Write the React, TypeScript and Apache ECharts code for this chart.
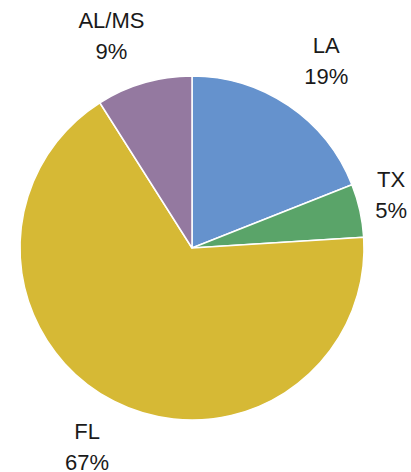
import React, { useEffect, useRef } from "react";
import * as echarts from "echarts";

const categories = ["LA", "TX", "FL", "AL/MS"];
const values = [19, 5, 67, 9];
const colors = ["#6592cd", "#5aa469", "#d6b935", "#9479a0"];

const CX = 192;
const CY = 248;
const R = 172;

export default function App() {
  const ref = useRef<HTMLDivElement>(null);
  useEffect(() => {
    document.body.style.margin = "0";
    const chart = echarts.init(ref.current!, null, { renderer: "svg" });
    const total = values.reduce((a, b) => a + b, 0);
    const labelDist = [230, 206, 225, 227];
    const angleShift = [1.5, -2.2, 0.8, -4.6];
    chart.setOption({
      animation: false,
      backgroundColor: "#ffffff",
      series: [
        {
          type: "pie",
          center: [CX, CY],
          radius: [0, R],
          startAngle: 90,
          clockwise: true,
          avoidLabelOverlap: false,
          data: categories.map((c, i) => ({
            name: c,
            value: values[i],
            itemStyle: { color: colors[i] },
          })),
          itemStyle: { borderColor: "#ffffff", borderWidth: 1.5 },
          label: {
            show: true,
            position: "outside",
            formatter: (p: any) => `${p.name}\n${p.value}%`,
            fontFamily: "Liberation Sans, Arial, sans-serif",
            fontSize: 22,
            lineHeight: 31,
            color: "#1a1a1a",
            align: "center",
          },
          labelLine: { show: false },
          labelLayout: (params: any) => {
            const i = params.dataIndex;
            let cum = 0;
            for (let k = 0; k < i; k++) cum += values[k];
            const mid =
              ((cum + values[i] / 2) / total) * Math.PI * 2 +
              (angleShift[i] * Math.PI) / 180;
            const d = labelDist[i];
            return {
              x: CX + d * Math.sin(mid),
              y: CY - d * Math.cos(mid),
              align: "center",
              verticalAlign: "middle",
            };
          },
          emphasis: { disabled: true },
        },
      ],
    });
    return () => chart.dispose();
  }, []);
  return <div ref={ref} style={{ width: 411, height: 472 }} />;
}
